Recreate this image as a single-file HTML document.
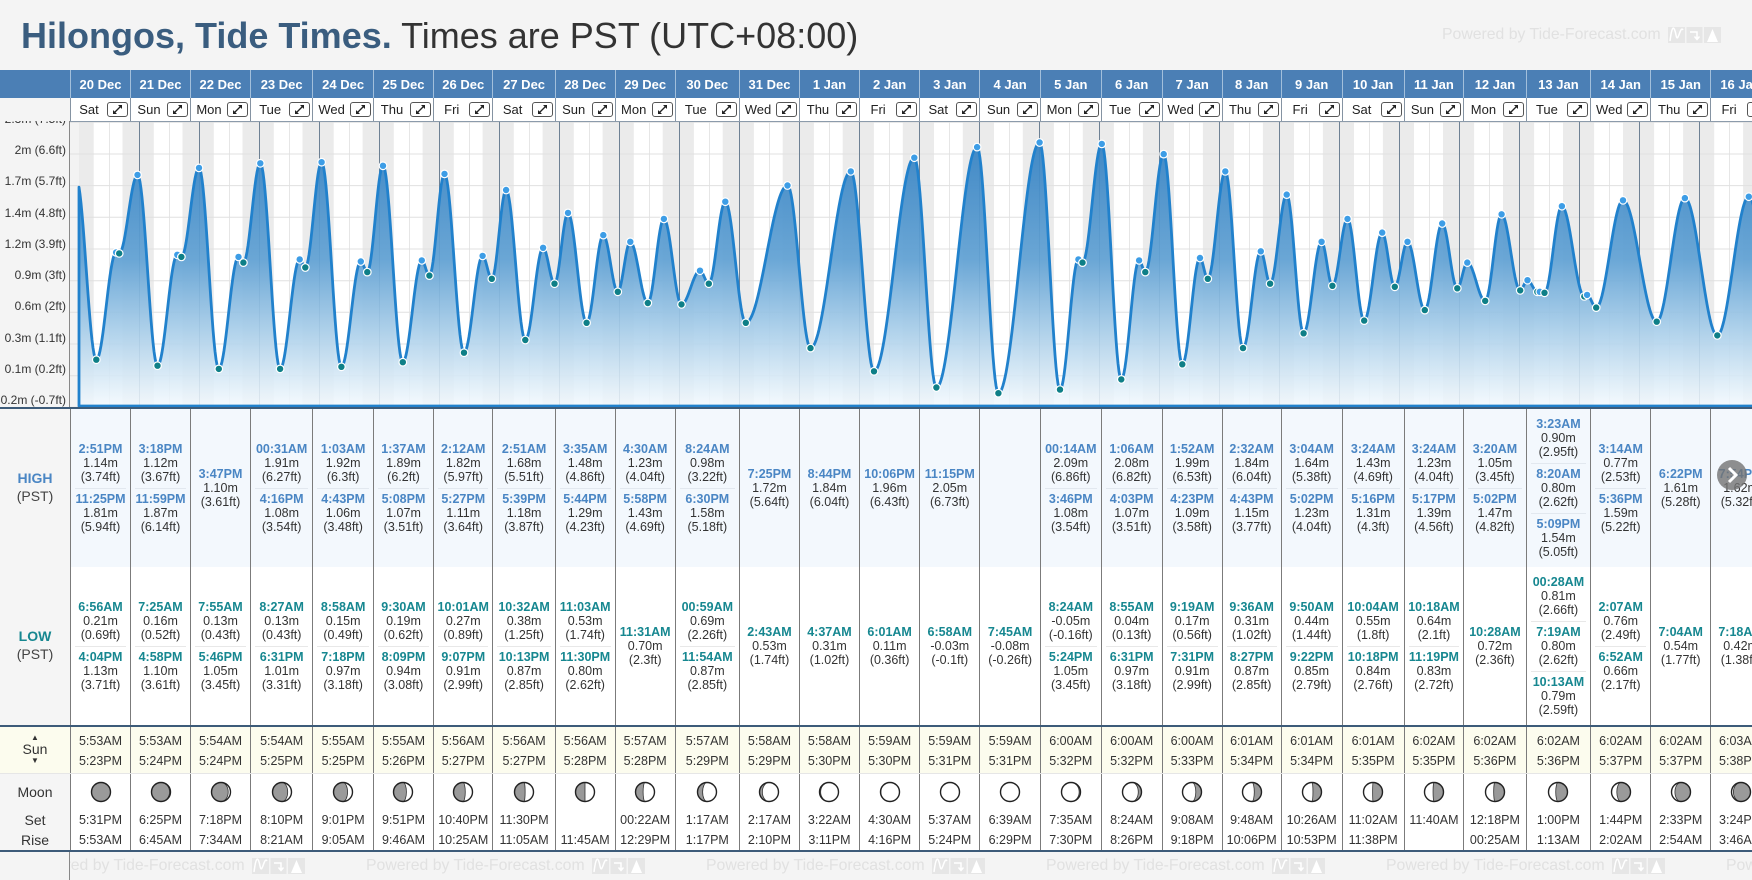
<!DOCTYPE html>
<html><head><meta charset="utf-8">
<style>
*{margin:0;padding:0;box-sizing:border-box}
body{width:1752px;height:880px;overflow:hidden;background:#f4f4f4;font-family:"Liberation Sans",Arial,sans-serif;position:relative;color:#333}
.title{position:absolute;left:21px;top:18px;font-size:36px;line-height:36px;white-space:nowrap;color:#333}
.title b{color:#3a5d7f}
.wm{position:absolute;display:flex;align-items:center;white-space:nowrap;font-size:15.8px;color:#e1e1e1;height:20px}
.wm svg{margin-left:7px;flex:none}
.row{position:absolute;left:0;display:grid;width:1770px;grid-template-columns:70px 60px 60px 60px 62.3px 60.7px 60px 59.5px 62.2px 60px 60px 64.3px 60px 60px 60.3px 60px 60.7px 60.7px 61px 60px 59px 61px 62px 59.6px 62.4px 64.6px 60px 60px 59.7px}
.hd{top:70px;height:28px;background:#4b7fb5}
.hd>div{border-left:1px solid #a2bfdb;color:#fff;font-weight:bold;font-size:13px;display:flex;align-items:center;justify-content:center;white-space:nowrap}
.hd>div:first-child{border-left:none}
.dy{top:98px;height:23px}
.dy>div{border-left:1px solid #8593a2;display:flex;align-items:center;background:#fff}
.dy>div:first-child{background:#f4f4f4;border-left:none}
.dy span{flex:1;text-align:center;font-size:13px;color:#222}
.dy svg{flex:none;margin-right:2px}
.tb>div{border-left:1px solid #7b7b7b;display:flex;flex-direction:column;justify-content:center;text-align:center;font-size:12.5px;line-height:14.4px;color:#333;white-space:nowrap}
.tb>div:first-child{border-left:none;background:#f5f5f5;font-size:14px;line-height:17.7px;color:#444}
.hi{top:409px;height:158px}
.hi>div{background:#f3f8fd}
.lo{top:567px;height:158px}
.lo>div{background:#fff}
.e{height:50px;padding-top:3.6px}
.e+.e{border-top:1px solid #e2e8ef;margin:0 4px;padding-top:2.6px}
.lo .e+.e{border-top-color:#e8e8e8}
.e b{display:block;font-weight:bold}
.hi .e b,.hi .lb{color:#4a86c4}
.lo .e b,.lo .lb{color:#168790}
.lb{font-weight:bold}
.sn{top:727px;height:46px}
.sn>div{background:#fcfcee;border-left:1px solid #7b7b7b;text-align:center;font-size:12.5px;line-height:20px;padding-top:3.7px;white-space:nowrap}
.sn>div:first-child{border-left:none;padding-top:6.3px;color:#333}
.mn{top:773px;height:77px;border-top:1px solid #e6e6e6}
.mn>div{background:#fff;border-left:1px solid #7b7b7b;text-align:center;font-size:12.5px;line-height:20px;white-space:nowrap}
.mn>div:first-child{border-left:none;background:#f5f5f5;font-size:14px;color:#333}
.mi{display:block;height:22px;margin-top:6.7px}
.mi svg{display:block;margin:0 auto}
.mt{margin-top:7.3px}
.dk{position:absolute;left:0;width:1752px;height:2px;background:#3d5b79}
.foot{position:absolute;left:0;top:852px;width:1752px;height:28px;background:#f4f4f4;overflow:hidden}
.ylab{position:absolute;left:0;top:121px;width:66px;height:286px;overflow:hidden}
.ylab div{position:absolute;right:0;font-size:12px;line-height:14px;white-space:nowrap;color:#333}
</style></head><body>
<svg width="0" height="0" style="position:absolute">
<defs>
<symbol id="ex" viewBox="0 0 21 15"><rect x="0.5" y="0.5" width="20" height="14" rx="2.5" fill="#fff" stroke="#555"/><path d="M7.5 10.5 L13.5 4.5" stroke="#222" stroke-width="1.3"/><path d="M6 12 L6 8 L10 12Z M15 3 L15 7 L11 3Z" fill="#222"/></symbol>
<symbol id="lg" viewBox="0 0 54 16"><rect x="0" y="0" width="17" height="16" fill="#e6e6e6"/><rect x="18.5" y="0" width="16" height="16" fill="#e6e6e6"/><rect x="36" y="0" width="17" height="16" fill="#e6e6e6"/><path d="M2 14 C4 -2 6 -2 8 8 C10 18 12 -2 15 3" fill="none" stroke="#fff" stroke-width="1.5"/><path d="M22 5 L29 5 L29 12 M26.5 9.5 L29 12.5 L31.5 9.5" fill="none" stroke="#fff" stroke-width="1.5"/><path d="M39 15 L44.5 2 L50 15Z" fill="#fff"/></symbol>
</defs></svg>

<div class="title"><b>Hilongos, Tide Times.</b> Times are PST (UTC+08:00)</div>
<div class="wm" style="left:1442px;top:25px">Powered by Tide-Forecast.com<svg width="54" height="16"><use href="#lg"/></svg></div>

<div class="row hd"><div></div><div>20 Dec</div><div>21 Dec</div><div>22 Dec</div><div>23 Dec</div><div>24 Dec</div><div>25 Dec</div><div>26 Dec</div><div>27 Dec</div><div>28 Dec</div><div>29 Dec</div><div>30 Dec</div><div>31 Dec</div><div>1 Jan</div><div>2 Jan</div><div>3 Jan</div><div>4 Jan</div><div>5 Jan</div><div>6 Jan</div><div>7 Jan</div><div>8 Jan</div><div>9 Jan</div><div>10 Jan</div><div>11 Jan</div><div>12 Jan</div><div>13 Jan</div><div>14 Jan</div><div>15 Jan</div><div>16 Jan</div></div>

<div class="row dy"><div></div>
<div><span>Sat</span><svg width="21" height="15"><use href="#ex"/></svg></div>
<div><span>Sun</span><svg width="21" height="15"><use href="#ex"/></svg></div>
<div><span>Mon</span><svg width="21" height="15"><use href="#ex"/></svg></div>
<div><span>Tue</span><svg width="21" height="15"><use href="#ex"/></svg></div>
<div><span>Wed</span><svg width="21" height="15"><use href="#ex"/></svg></div>
<div><span>Thu</span><svg width="21" height="15"><use href="#ex"/></svg></div>
<div><span>Fri</span><svg width="21" height="15"><use href="#ex"/></svg></div>
<div><span>Sat</span><svg width="21" height="15"><use href="#ex"/></svg></div>
<div><span>Sun</span><svg width="21" height="15"><use href="#ex"/></svg></div>
<div><span>Mon</span><svg width="21" height="15"><use href="#ex"/></svg></div>
<div><span>Tue</span><svg width="21" height="15"><use href="#ex"/></svg></div>
<div><span>Wed</span><svg width="21" height="15"><use href="#ex"/></svg></div>
<div><span>Thu</span><svg width="21" height="15"><use href="#ex"/></svg></div>
<div><span>Fri</span><svg width="21" height="15"><use href="#ex"/></svg></div>
<div><span>Sat</span><svg width="21" height="15"><use href="#ex"/></svg></div>
<div><span>Sun</span><svg width="21" height="15"><use href="#ex"/></svg></div>
<div><span>Mon</span><svg width="21" height="15"><use href="#ex"/></svg></div>
<div><span>Tue</span><svg width="21" height="15"><use href="#ex"/></svg></div>
<div><span>Wed</span><svg width="21" height="15"><use href="#ex"/></svg></div>
<div><span>Thu</span><svg width="21" height="15"><use href="#ex"/></svg></div>
<div><span>Fri</span><svg width="21" height="15"><use href="#ex"/></svg></div>
<div><span>Sat</span><svg width="21" height="15"><use href="#ex"/></svg></div>
<div><span>Sun</span><svg width="21" height="15"><use href="#ex"/></svg></div>
<div><span>Mon</span><svg width="21" height="15"><use href="#ex"/></svg></div>
<div><span>Tue</span><svg width="21" height="15"><use href="#ex"/></svg></div>
<div><span>Wed</span><svg width="21" height="15"><use href="#ex"/></svg></div>
<div><span>Thu</span><svg width="21" height="15"><use href="#ex"/></svg></div>
<div><span>Fri</span><svg width="21" height="15"><use href="#ex"/></svg></div>
</div>

<div style="position:absolute;left:69px;top:121px;width:1px;height:286px;background:#888"></div>
<div class="ylab">
<div style="top:-9.5px">2.3m (7.5ft)</div>
<div style="top:22.3px">2m (6.6ft)</div>
<div style="top:53.3px">1.7m (5.7ft)</div>
<div style="top:84.7px">1.4m (4.8ft)</div>
<div style="top:116px">1.2m (3.9ft)</div>
<div style="top:146.7px">0.9m (3ft)</div>
<div style="top:178px">0.6m (2ft)</div>
<div style="top:209.7px">0.3m (1.1ft)</div>
<div style="top:240.7px">0.1m (0.2ft)</div>
<div style="top:272px">-0.2m (-0.7ft)</div>
</div>
<svg id="chart" style="position:absolute;left:70px;top:121px" width="1682" height="286" viewBox="70 121 1682 286"></svg>

<div class="dk" style="top:407px"></div>

<div class="row tb hi">
<div><span class="lb">HIGH</span>(PST)</div>
<div><div class="e"><b>2:51PM</b>1.14m<br>(3.74ft)</div><div class="e"><b>11:25PM</b>1.81m<br>(5.94ft)</div></div>
<div><div class="e"><b>3:18PM</b>1.12m<br>(3.67ft)</div><div class="e"><b>11:59PM</b>1.87m<br>(6.14ft)</div></div>
<div><div class="e"><b>3:47PM</b>1.10m<br>(3.61ft)</div></div>
<div><div class="e"><b>00:31AM</b>1.91m<br>(6.27ft)</div><div class="e"><b>4:16PM</b>1.08m<br>(3.54ft)</div></div>
<div><div class="e"><b>1:03AM</b>1.92m<br>(6.3ft)</div><div class="e"><b>4:43PM</b>1.06m<br>(3.48ft)</div></div>
<div><div class="e"><b>1:37AM</b>1.89m<br>(6.2ft)</div><div class="e"><b>5:08PM</b>1.07m<br>(3.51ft)</div></div>
<div><div class="e"><b>2:12AM</b>1.82m<br>(5.97ft)</div><div class="e"><b>5:27PM</b>1.11m<br>(3.64ft)</div></div>
<div><div class="e"><b>2:51AM</b>1.68m<br>(5.51ft)</div><div class="e"><b>5:39PM</b>1.18m<br>(3.87ft)</div></div>
<div><div class="e"><b>3:35AM</b>1.48m<br>(4.86ft)</div><div class="e"><b>5:44PM</b>1.29m<br>(4.23ft)</div></div>
<div><div class="e"><b>4:30AM</b>1.23m<br>(4.04ft)</div><div class="e"><b>5:58PM</b>1.43m<br>(4.69ft)</div></div>
<div><div class="e"><b>8:24AM</b>0.98m<br>(3.22ft)</div><div class="e"><b>6:30PM</b>1.58m<br>(5.18ft)</div></div>
<div><div class="e"><b>7:25PM</b>1.72m<br>(5.64ft)</div></div>
<div><div class="e"><b>8:44PM</b>1.84m<br>(6.04ft)</div></div>
<div><div class="e"><b>10:06PM</b>1.96m<br>(6.43ft)</div></div>
<div><div class="e"><b>11:15PM</b>2.05m<br>(6.73ft)</div></div>
<div></div>
<div><div class="e"><b>00:14AM</b>2.09m<br>(6.86ft)</div><div class="e"><b>3:46PM</b>1.08m<br>(3.54ft)</div></div>
<div><div class="e"><b>1:06AM</b>2.08m<br>(6.82ft)</div><div class="e"><b>4:03PM</b>1.07m<br>(3.51ft)</div></div>
<div><div class="e"><b>1:52AM</b>1.99m<br>(6.53ft)</div><div class="e"><b>4:23PM</b>1.09m<br>(3.58ft)</div></div>
<div><div class="e"><b>2:32AM</b>1.84m<br>(6.04ft)</div><div class="e"><b>4:43PM</b>1.15m<br>(3.77ft)</div></div>
<div><div class="e"><b>3:04AM</b>1.64m<br>(5.38ft)</div><div class="e"><b>5:02PM</b>1.23m<br>(4.04ft)</div></div>
<div><div class="e"><b>3:24AM</b>1.43m<br>(4.69ft)</div><div class="e"><b>5:16PM</b>1.31m<br>(4.3ft)</div></div>
<div><div class="e"><b>3:24AM</b>1.23m<br>(4.04ft)</div><div class="e"><b>5:17PM</b>1.39m<br>(4.56ft)</div></div>
<div><div class="e"><b>3:20AM</b>1.05m<br>(3.45ft)</div><div class="e"><b>5:02PM</b>1.47m<br>(4.82ft)</div></div>
<div><div class="e"><b>3:23AM</b>0.90m<br>(2.95ft)</div><div class="e"><b>8:20AM</b>0.80m<br>(2.62ft)</div><div class="e"><b>5:09PM</b>1.54m<br>(5.05ft)</div></div>
<div><div class="e"><b>3:14AM</b>0.77m<br>(2.53ft)</div><div class="e"><b>5:36PM</b>1.59m<br>(5.22ft)</div></div>
<div><div class="e"><b>6:22PM</b>1.61m<br>(5.28ft)</div></div>
<div><div class="e"><b>7:54PM</b>1.62m<br>(5.32ft)</div></div>
</div>

<div class="row tb lo">
<div><span class="lb">LOW</span>(PST)</div>
<div><div class="e"><b>6:56AM</b>0.21m<br>(0.69ft)</div><div class="e"><b>4:04PM</b>1.13m<br>(3.71ft)</div></div>
<div><div class="e"><b>7:25AM</b>0.16m<br>(0.52ft)</div><div class="e"><b>4:58PM</b>1.10m<br>(3.61ft)</div></div>
<div><div class="e"><b>7:55AM</b>0.13m<br>(0.43ft)</div><div class="e"><b>5:46PM</b>1.05m<br>(3.45ft)</div></div>
<div><div class="e"><b>8:27AM</b>0.13m<br>(0.43ft)</div><div class="e"><b>6:31PM</b>1.01m<br>(3.31ft)</div></div>
<div><div class="e"><b>8:58AM</b>0.15m<br>(0.49ft)</div><div class="e"><b>7:18PM</b>0.97m<br>(3.18ft)</div></div>
<div><div class="e"><b>9:30AM</b>0.19m<br>(0.62ft)</div><div class="e"><b>8:09PM</b>0.94m<br>(3.08ft)</div></div>
<div><div class="e"><b>10:01AM</b>0.27m<br>(0.89ft)</div><div class="e"><b>9:07PM</b>0.91m<br>(2.99ft)</div></div>
<div><div class="e"><b>10:32AM</b>0.38m<br>(1.25ft)</div><div class="e"><b>10:13PM</b>0.87m<br>(2.85ft)</div></div>
<div><div class="e"><b>11:03AM</b>0.53m<br>(1.74ft)</div><div class="e"><b>11:30PM</b>0.80m<br>(2.62ft)</div></div>
<div><div class="e"><b>11:31AM</b>0.70m<br>(2.3ft)</div></div>
<div><div class="e"><b>00:59AM</b>0.69m<br>(2.26ft)</div><div class="e"><b>11:54AM</b>0.87m<br>(2.85ft)</div></div>
<div><div class="e"><b>2:43AM</b>0.53m<br>(1.74ft)</div></div>
<div><div class="e"><b>4:37AM</b>0.31m<br>(1.02ft)</div></div>
<div><div class="e"><b>6:01AM</b>0.11m<br>(0.36ft)</div></div>
<div><div class="e"><b>6:58AM</b>-0.03m<br>(-0.1ft)</div></div>
<div><div class="e"><b>7:45AM</b>-0.08m<br>(-0.26ft)</div></div>
<div><div class="e"><b>8:24AM</b>-0.05m<br>(-0.16ft)</div><div class="e"><b>5:24PM</b>1.05m<br>(3.45ft)</div></div>
<div><div class="e"><b>8:55AM</b>0.04m<br>(0.13ft)</div><div class="e"><b>6:31PM</b>0.97m<br>(3.18ft)</div></div>
<div><div class="e"><b>9:19AM</b>0.17m<br>(0.56ft)</div><div class="e"><b>7:31PM</b>0.91m<br>(2.99ft)</div></div>
<div><div class="e"><b>9:36AM</b>0.31m<br>(1.02ft)</div><div class="e"><b>8:27PM</b>0.87m<br>(2.85ft)</div></div>
<div><div class="e"><b>9:50AM</b>0.44m<br>(1.44ft)</div><div class="e"><b>9:22PM</b>0.85m<br>(2.79ft)</div></div>
<div><div class="e"><b>10:04AM</b>0.55m<br>(1.8ft)</div><div class="e"><b>10:18PM</b>0.84m<br>(2.76ft)</div></div>
<div><div class="e"><b>10:18AM</b>0.64m<br>(2.1ft)</div><div class="e"><b>11:19PM</b>0.83m<br>(2.72ft)</div></div>
<div><div class="e"><b>10:28AM</b>0.72m<br>(2.36ft)</div></div>
<div><div class="e"><b>00:28AM</b>0.81m<br>(2.66ft)</div><div class="e"><b>7:19AM</b>0.80m<br>(2.62ft)</div><div class="e"><b>10:13AM</b>0.79m<br>(2.59ft)</div></div>
<div><div class="e"><b>2:07AM</b>0.76m<br>(2.49ft)</div><div class="e"><b>6:52AM</b>0.66m<br>(2.17ft)</div></div>
<div><div class="e"><b>7:04AM</b>0.54m<br>(1.77ft)</div></div>
<div><div class="e"><b>7:18AM</b>0.42m<br>(1.38ft)</div></div>
</div>

<div class="dk" style="top:725px"></div>

<div class="row sn">
<div><div style="font-size:8px;line-height:10px">▲</div><div style="font-size:14px;line-height:13px">Sun</div><div style="font-size:8px;line-height:10px">▼</div></div>
<div>5:53AM<br>5:23PM</div><div>5:53AM<br>5:24PM</div><div>5:54AM<br>5:24PM</div><div>5:54AM<br>5:25PM</div><div>5:55AM<br>5:25PM</div><div>5:55AM<br>5:26PM</div><div>5:56AM<br>5:27PM</div><div>5:56AM<br>5:27PM</div><div>5:56AM<br>5:28PM</div><div>5:57AM<br>5:28PM</div><div>5:57AM<br>5:29PM</div><div>5:58AM<br>5:29PM</div><div>5:58AM<br>5:30PM</div><div>5:59AM<br>5:30PM</div><div>5:59AM<br>5:31PM</div><div>5:59AM<br>5:31PM</div><div>6:00AM<br>5:32PM</div><div>6:00AM<br>5:32PM</div><div>6:00AM<br>5:33PM</div><div>6:01AM<br>5:34PM</div><div>6:01AM<br>5:34PM</div><div>6:01AM<br>5:35PM</div><div>6:02AM<br>5:35PM</div><div>6:02AM<br>5:36PM</div><div>6:02AM<br>5:36PM</div><div>6:02AM<br>5:37PM</div><div>6:02AM<br>5:37PM</div><div>6:03AM<br>5:38PM</div>
</div>

<div class="row mn">
<div><div style="margin-top:8.3px">Moon</div><div style="margin-top:7.7px">Set</div><div>Rise</div></div>
<div><i class="mi"></i><div class="mt">5:31PM<br>5:53AM</div></div>
<div><i class="mi"></i><div class="mt">6:25PM<br>6:45AM</div></div>
<div><i class="mi"></i><div class="mt">7:18PM<br>7:34AM</div></div>
<div><i class="mi"></i><div class="mt">8:10PM<br>8:21AM</div></div>
<div><i class="mi"></i><div class="mt">9:01PM<br>9:05AM</div></div>
<div><i class="mi"></i><div class="mt">9:51PM<br>9:46AM</div></div>
<div><i class="mi"></i><div class="mt">10:40PM<br>10:25AM</div></div>
<div><i class="mi"></i><div class="mt">11:30PM<br>11:05AM</div></div>
<div><i class="mi"></i><div class="mt">&nbsp;<br>11:45AM</div></div>
<div><i class="mi"></i><div class="mt">00:22AM<br>12:29PM</div></div>
<div><i class="mi"></i><div class="mt">1:17AM<br>1:17PM</div></div>
<div><i class="mi"></i><div class="mt">2:17AM<br>2:10PM</div></div>
<div><i class="mi"></i><div class="mt">3:22AM<br>3:11PM</div></div>
<div><i class="mi"></i><div class="mt">4:30AM<br>4:16PM</div></div>
<div><i class="mi"></i><div class="mt">5:37AM<br>5:24PM</div></div>
<div><i class="mi"></i><div class="mt">6:39AM<br>6:29PM</div></div>
<div><i class="mi"></i><div class="mt">7:35AM<br>7:30PM</div></div>
<div><i class="mi"></i><div class="mt">8:24AM<br>8:26PM</div></div>
<div><i class="mi"></i><div class="mt">9:08AM<br>9:18PM</div></div>
<div><i class="mi"></i><div class="mt">9:48AM<br>10:06PM</div></div>
<div><i class="mi"></i><div class="mt">10:26AM<br>10:53PM</div></div>
<div><i class="mi"></i><div class="mt">11:02AM<br>11:38PM</div></div>
<div><i class="mi"></i><div class="mt">11:40AM<br>&nbsp;</div></div>
<div><i class="mi"></i><div class="mt">12:18PM<br>00:25AM</div></div>
<div><i class="mi"></i><div class="mt">1:00PM<br>1:13AM</div></div>
<div><i class="mi"></i><div class="mt">1:44PM<br>2:02AM</div></div>
<div><i class="mi"></i><div class="mt">2:33PM<br>2:54AM</div></div>
<div><i class="mi"></i><div class="mt">3:24PM<br>3:46AM</div></div>
</div>

<div class="dk" style="top:850px"></div>

<div class="foot">
<div class="wm" style="left:26px;top:4px">Powered by Tide-Forecast.com<svg width="54" height="16"><use href="#lg"/></svg></div>
<div class="wm" style="left:366px;top:4px">Powered by Tide-Forecast.com<svg width="54" height="16"><use href="#lg"/></svg></div>
<div class="wm" style="left:706px;top:4px">Powered by Tide-Forecast.com<svg width="54" height="16"><use href="#lg"/></svg></div>
<div class="wm" style="left:1046px;top:4px">Powered by Tide-Forecast.com<svg width="54" height="16"><use href="#lg"/></svg></div>
<div class="wm" style="left:1386px;top:4px">Powered by Tide-Forecast.com<svg width="54" height="16"><use href="#lg"/></svg></div>
<div class="wm" style="left:1726px;top:4px">Powered by Tide-Forecast.com<svg width="54" height="16"><use href="#lg"/></svg></div>
<div style="position:absolute;left:0;top:0;width:70px;height:28px;background:#f4f4f4;border-right:1px solid #888"></div>
</div>

<div style="position:absolute;left:1717px;top:460px;width:30px;height:30px;border-radius:50%;background:rgba(115,115,115,0.8)">
<svg width="30" height="30"><polyline points="12,8 19,15 12,22" fill="none" stroke="#fff" stroke-width="3"/></svg></div>

<script>
(function(){
var svg=document.getElementById('chart');
var h='';
function Y(f){return 384-35.2*f;}
function X(d,hr){return 79+(d*24+hr)*2.5;}
h+='<defs><linearGradient id="gf" gradientUnits="userSpaceOnUse" x1="0" y1="140" x2="0" y2="406">'+
'<stop offset="0" stop-color="#3783c3" stop-opacity="0.95"/>'+
'<stop offset="0.45" stop-color="#62a2d4" stop-opacity="0.94"/>'+
'<stop offset="0.71" stop-color="#a7cde9" stop-opacity="0.92"/>'+
'<stop offset="0.94" stop-color="#e3f0f9" stop-opacity="0.88"/>'+
'<stop offset="1" stop-color="#f2f8fd" stop-opacity="0.85"/></linearGradient></defs>';
h+='<rect x="70" y="121" width="1682" height="286" fill="#fff"/>';
h+='<rect x="70" y="121" width="9" height="286" fill="#f3f3f3"/>';
for(var d=0;d<=29;d++){
  var set=17.383+(d-1)*0.0093, rise=5.883+d*0.0062;
  var x1=X(d-1,set), x2=X(d,rise);
  if(x1<79)x1=79;
  if(x2>x1) h+='<rect x="'+x1.toFixed(1)+'" y="121" width="'+(x2-x1).toFixed(1)+'" height="286" fill="#ebebeb"/>';
}
for(var k=0;k<29;k++){
  var xn=79+60*k+30.5;
  h+='<line x1="'+xn+'" y1="121" x2="'+xn+'" y2="407" stroke="#e6e6e6" stroke-width="1"/>';
}
for(var k=0;k<10;k++){
  var yy=(122.3+31.67*k).toFixed(1);
  h+='<line x1="70" y1="'+yy+'" x2="1752" y2="'+yy+'" stroke="#e0e0e0" stroke-width="1"/>';
}
for(var k=1;k<29;k++){
  var xm=79+60*k+0.5;
  h+='<line x1="'+xm+'" y1="121" x2="'+xm+'" y2="407" stroke="#6e8194" stroke-width="1"/>';
}
var D=[[-1,22,50,5.85,1],
[0,6,56,0.69,0],[0,14,51,3.74,1],[0,16,4,3.71,0],[0,23,25,5.94,1],
[1,7,25,0.52,0],[1,15,18,3.67,1],[1,16,58,3.61,0],[1,23,59,6.14,1],
[2,7,55,0.43,0],[2,15,47,3.61,1],[2,17,46,3.45,0],
[3,0,31,6.27,1],[3,8,27,0.43,0],[3,16,16,3.54,1],[3,18,31,3.31,0],
[4,1,3,6.3,1],[4,8,58,0.49,0],[4,16,43,3.48,1],[4,19,18,3.18,0],
[5,1,37,6.2,1],[5,9,30,0.62,0],[5,17,8,3.51,1],[5,20,9,3.08,0],
[6,2,12,5.97,1],[6,10,1,0.89,0],[6,17,27,3.64,1],[6,21,7,2.99,0],
[7,2,51,5.51,1],[7,10,32,1.25,0],[7,17,39,3.87,1],[7,22,13,2.85,0],
[8,3,35,4.86,1],[8,11,3,1.74,0],[8,17,44,4.23,1],[8,23,30,2.62,0],
[9,4,30,4.04,1],[9,11,31,2.3,0],[9,17,58,4.69,1],
[10,0,59,2.26,0],[10,8,24,3.22,1],[10,11,54,2.85,0],[10,18,30,5.18,1],
[11,2,43,1.74,0],[11,19,25,5.64,1],
[12,4,37,1.02,0],[12,20,44,6.04,1],
[13,6,1,0.36,0],[13,22,6,6.43,1],
[14,6,58,-0.1,0],[14,23,15,6.73,1],
[15,7,45,-0.26,0],
[16,0,14,6.86,1],[16,8,24,-0.16,0],[16,15,46,3.54,1],[16,17,24,3.45,0],
[17,1,6,6.82,1],[17,8,55,0.13,0],[17,16,3,3.51,1],[17,18,31,3.18,0],
[18,1,52,6.53,1],[18,9,19,0.56,0],[18,16,23,3.58,1],[18,19,31,2.99,0],
[19,2,32,6.04,1],[19,9,36,1.02,0],[19,16,43,3.77,1],[19,20,27,2.85,0],
[20,3,4,5.38,1],[20,9,50,1.44,0],[20,17,2,4.04,1],[20,21,22,2.79,0],
[21,3,24,4.69,1],[21,10,4,1.8,0],[21,17,16,4.3,1],[21,22,18,2.76,0],
[22,3,24,4.04,1],[22,10,18,2.1,0],[22,17,17,4.56,1],[22,23,19,2.72,0],
[23,3,20,3.45,1],[23,10,28,2.36,0],[23,17,2,4.82,1],
[24,0,28,2.66,0],[24,3,23,2.95,1],[24,7,19,2.62,0],[24,8,20,2.62,1],[24,10,13,2.59,0],[24,17,9,5.05,1],
[25,2,7,2.49,0],[25,3,14,2.53,1],[25,6,52,2.17,0],[25,17,36,5.22,1],
[26,7,4,1.77,0],[26,18,22,5.28,1],
[27,7,18,1.38,0],[27,19,54,5.32,1],
[28,8,0,1.0,0]];
var T=D.map(function(e){return e[0]*24+e[1]+e[2]/60;});
var pts=[];var i=0;
for(var px=79;px<=1754;px+=1){
  var t=(px-79)/2.5;
  while(i<T.length-2&&T[i+1]<t)i++;
  var a=D[i][3],b=D[i+1][3];
  var u=(t-T[i])/(T[i+1]-T[i]);
  var v=a+(b-a)*(1-Math.cos(Math.PI*u))/2;
  pts.push(px+','+Y(v).toFixed(1));
}
var path='M79,406 L'+pts.join(' L')+' L1754,406 Z';
h+='<path d="'+path+'" fill="url(#gf)" stroke="#2181cc" stroke-width="2.8" stroke-linejoin="round"/>';
for(var j=1;j<D.length-1;j++){
  var e=D[j];var cx=X(e[0],e[1]+e[2]/60), cy=Y(e[3]);
  h+='<circle cx="'+cx.toFixed(1)+'" cy="'+cy.toFixed(1)+'" r="3.8" fill="'+(e[4]?'#3d9de6':'#0e7f87')+'" stroke="#fff" stroke-width="1.2"/>';
}
h+='<line x1="70" y1="121.5" x2="1752" y2="121.5" stroke="#8c9bab" stroke-width="1"/>';
svg.innerHTML=h;

var moon=[[1,'L'],[0.95,'L'],[0.88,'L'],[0.8,'L'],[0.74,'L'],[0.68,'L'],[0.62,'L'],[0.56,'L'],[0.5,'L'],[0.4,'L'],[0.27,'L'],[0.15,'L'],[0.06,'L'],[0.02,'L'],[0,'L'],[0,'L'],[0.07,'R'],[0.17,'R'],[0.3,'R'],[0.38,'R'],[0.45,'R'],[0.52,'R'],[0.55,'R'],[0.57,'R'],[0.62,'R'],[0.72,'R'],[0.82,'R'],[0.9,'R']];
function moonSVG(g,side){
  var r=9.5,cx=11,cy=11,p='';
  if(g>=0.999)p='<circle cx="11" cy="11" r="9.5" fill="#9a9a9a"/>';
  else if(g>0.001){
    var rx=Math.abs(1-2*g)*r, top=cx+','+(cy-r), bot=cx+','+(cy+r), d;
    if(side==='L'){d='M'+top+'A'+r+','+r+' 0 0 0 '+bot+'A'+rx.toFixed(2)+','+r+' 0 0 '+(g>0.5?0:1)+' '+top+'Z';}
    else{d='M'+top+'A'+r+','+r+' 0 0 1 '+bot+'A'+rx.toFixed(2)+','+r+' 0 0 '+(g>0.5?1:0)+' '+top+'Z';}
    p='<path d="'+d+'" fill="#9a9a9a" stroke="#333" stroke-width="0.8"/>';
  }
  return '<svg width="22" height="22"><circle cx="11" cy="11" r="9.5" fill="#fff"/>'+p+'<circle cx="11" cy="11" r="9.5" fill="none" stroke="#222" stroke-width="1.4"/></svg>';
}
var mis=document.querySelectorAll('.mi');
for(var m=0;m<mis.length;m++){mis[m].innerHTML=moonSVG(moon[m][0],moon[m][1]);}
})();
</script>
</body></html>
